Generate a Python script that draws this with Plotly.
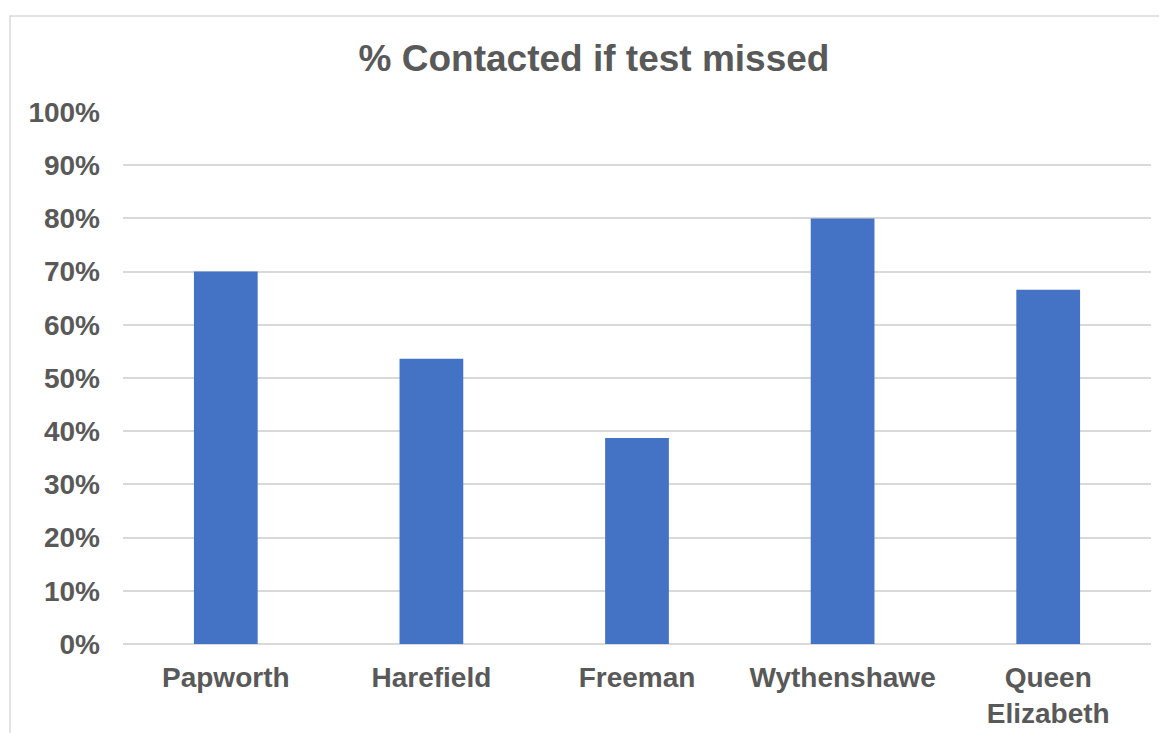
import plotly.graph_objects as go

categories = ["Papworth", "Harefield", "Freeman", "Wythenshawe", "Queen<br>Elizabeth"]
values = [0.70, 0.536, 0.387, 0.80, 0.666]
tick_vals = [0, 0.1, 0.2, 0.3, 0.4, 0.5, 0.6, 0.7, 0.8, 0.9, 1.0]
tick_text = ["0%", "10%", "20%", "30%", "40%", "50%", "60%", "70%", "80%", "90%", "100%"]

FONT = "Liberation Sans, Arial, sans-serif"
GRAY = "#595959"
GRID = "#D9D9D9"

fig = go.Figure()
fig.add_trace(go.Bar(
    x=categories, y=values,
    marker=dict(color="#4472C4", line=dict(width=0)),
    hoverinfo="skip",
))

W, H = 1167, 733
OFF = 8  # page body margin
ml, mr, mt, mb = 123 - OFF, 24, 104, 89
pw, ph = W - ml - mr, H - mt - mb

fig.update_layout(
    width=W, height=H,
    margin=dict(l=ml, r=mr, t=mt, b=mb),
    paper_bgcolor="white", plot_bgcolor="white",
    showlegend=False,
    bargap=0.69,
    title=dict(
        text="<b>% Contacted if test missed</b>",
        font=dict(family=FONT, size=37, color=GRAY),
        x=(594 - OFF) / W, xref="container", xanchor="center",
        y=1 - (58 - OFF) / H, yref="container", yanchor="middle",
    ),
    xaxis=dict(
        showgrid=False, showline=False, zeroline=False,
        tickfont=dict(family=FONT, size=28, color=GRAY),
        ticks="", ticklabelstandoff=14,
    ),
    yaxis=dict(
        range=[0, 1.0], tickvals=tick_vals, ticktext=[f"<b>{t}</b>" for t in tick_text],
        showgrid=True, gridcolor=GRID, gridwidth=1.5,
        zeroline=True, zerolinecolor=GRID, zerolinewidth=1.5,
        showline=False, ticks="",
        tickfont=dict(family=FONT, size=28, color=GRAY),
        ticklabelstandoff=22,
    ),
)
fig.update_xaxes(tickvals=categories, ticktext=[f"<b>{c}</b>" for c in categories])

# chart area border
fig.add_shape(
    type="rect", xref="paper", yref="paper",
    x0=(10 - OFF - ml) / pw, x1=1 + (mr + 20) / pw,
    y0=-(mb + 20) / ph, y1=1 + (mt - (14.5 - OFF)) / ph,
    line=dict(color=GRID, width=1.5), fillcolor="rgba(0,0,0,0)", layer="below",
)

fig.write_html("out.html")
